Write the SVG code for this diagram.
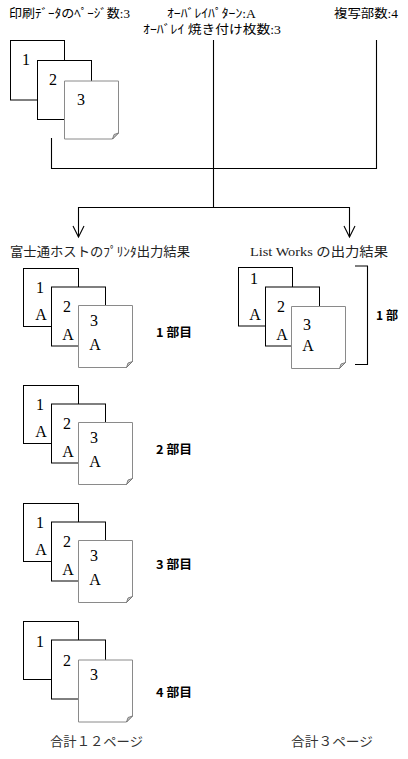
<svg xmlns="http://www.w3.org/2000/svg" width="408" height="759" viewBox="0 0 408 759">
<style>
.bg{fill:#fff}
.pg{fill:#fff;stroke:#000;stroke-width:1}
.pg3{fill:#fff;stroke:#8a8a8a;stroke-width:1}
.ear{fill:#c8c8c8;stroke:#6a6a6a;stroke-width:0.8}
.num{font-family:"Liberation Serif","Noto Sans CJK JP",serif;font-size:16px;fill:#000;text-anchor:middle}
.t{font-family:"Liberation Serif","Noto Sans CJK JP",serif;font-size:12.5px;fill:#000}
.h{font-family:"Liberation Serif","Noto Sans CJK JP",serif;font-size:13px;fill:#222}
.lbl{font-family:"Noto Sans CJK JP","Liberation Sans",sans-serif;font-size:12px;font-weight:bold;fill:#000}
.tot{font-family:"Liberation Serif","Noto Sans CJK JP",serif;font-size:13px;fill:#333}
.ln{fill:none;stroke:#000;stroke-width:1.1}
</style>
<defs>
<g id="page3shape">
<path class="pg3" d="M0,0 H54 V56 L48,62 H0 Z"/>
<path class="ear" d="M54,56 L48,62 L49.5,57.5 Z"/>
</g>
</defs>
<rect class="bg" x="0" y="0" width="408" height="759"/>

<g id="header-texts">
<text class="t" x="9" y="18" textLength="121" lengthAdjust="spacingAndGlyphs">印刷ﾃﾞｰﾀのﾍﾟｰｼﾞ数:3</text>
<text class="t" x="167" y="18" textLength="89" lengthAdjust="spacingAndGlyphs">ｵｰﾊﾞﾚｲﾊﾟﾀｰﾝ:A</text>
<text class="t" x="334" y="18" textLength="64" lengthAdjust="spacingAndGlyphs">複写部数:4</text>
<text class="t" x="143" y="34" textLength="138" lengthAdjust="spacingAndGlyphs">ｵｰﾊﾞﾚｲ 焼き付け枚数:3</text>
</g>

<g id="connectors">
<path class="ln" d="M51.5,138 V168.5 H376.5 V40"/>
<path class="ln" d="M213.5,40 V207.5"/>
<path class="ln" d="M78.5,237 V207.5 H349.5 V237"/>
<path class="ln" d="M73,226 L78.5,237 L84,226"/>
<path class="ln" d="M344,226 L349.5,237 L355,226"/>
</g>

<g id="source-pages">
<g id="src-p1"><rect class="pg" x="10.5" y="40.5" width="54" height="59.5"/><text class="num" x="26" y="65">1</text></g>
<g id="src-p2"><rect class="pg" x="37.5" y="60.5" width="54" height="59"/><text class="num" x="53" y="85">2</text></g>
<g id="src-p3"><path class="pg3" d="M64.5,81 H118.5 V133 L112.5,139 H64.5 Z"/><path class="ear" d="M118.5,133 L112.5,139 L114,134.5 Z"/><text class="num" x="81" y="105">3</text></g>
</g>

<g id="headings">
<text class="h" x="10" y="256" textLength="180" lengthAdjust="spacingAndGlyphs">富士通ホストのﾌﾟﾘﾝﾀ出力結果</text>
<text class="h" x="250" y="256" textLength="138" lengthAdjust="spacingAndGlyphs">List Works の出力結果</text>
</g>

<g id="copy1">
<rect class="pg" x="23.5" y="268.5" width="55" height="58"/>
<text class="num" x="40" y="293">1</text><text class="num" x="41" y="320">A</text>
<rect class="pg" x="51.5" y="287" width="54" height="59"/>
<text class="num" x="67" y="312">2</text><text class="num" x="68" y="340">A</text>
<use href="#page3shape" x="78.5" y="305.5"/>
<text class="num" x="94" y="326">3</text><text class="num" x="95" y="350">A</text>
<text class="lbl" x="156" y="337" textLength="36" lengthAdjust="spacingAndGlyphs">1 部目</text>
</g>

<g id="copy2" transform="translate(0,117)">
<rect class="pg" x="23.5" y="268.5" width="55" height="58"/>
<text class="num" x="40" y="293">1</text><text class="num" x="41" y="320">A</text>
<rect class="pg" x="51.5" y="287" width="54" height="59"/>
<text class="num" x="67" y="312">2</text><text class="num" x="68" y="340">A</text>
<use href="#page3shape" x="78.5" y="305.5"/>
<text class="num" x="94" y="326">3</text><text class="num" x="95" y="350">A</text>
<text class="lbl" x="156" y="337" textLength="36" lengthAdjust="spacingAndGlyphs">2 部目</text>
</g>

<g id="copy3" transform="translate(0,235)">
<rect class="pg" x="23.5" y="268.5" width="55" height="58"/>
<text class="num" x="40" y="293">1</text><text class="num" x="41" y="320">A</text>
<rect class="pg" x="51.5" y="287" width="54" height="59"/>
<text class="num" x="67" y="312">2</text><text class="num" x="68" y="340">A</text>
<use href="#page3shape" x="78.5" y="305.5"/>
<text class="num" x="94" y="326">3</text><text class="num" x="95" y="350">A</text>
<text class="lbl" x="156" y="334" textLength="36" lengthAdjust="spacingAndGlyphs">3 部目</text>
</g>

<g id="copy4" transform="translate(0,353)">
<rect class="pg" x="23.5" y="268.5" width="55" height="58"/>
<text class="num" x="40" y="294">1</text>
<rect class="pg" x="51.5" y="287" width="54" height="59"/>
<text class="num" x="67" y="313">2</text>
<use href="#page3shape" x="78.5" y="307"/>
<text class="num" x="94" y="327">3</text>
<text class="lbl" x="156" y="344" textLength="36" lengthAdjust="spacingAndGlyphs">4 部目</text>
</g>

<g id="listworks-copy">
<rect class="pg" x="238.5" y="267.5" width="54" height="58.5"/>
<text class="num" x="254" y="284">1</text><text class="num" x="255" y="320">A</text>
<rect class="pg" x="265.5" y="287" width="54" height="59"/>
<text class="num" x="281" y="312">2</text><text class="num" x="282" y="340">A</text>
<use href="#page3shape" x="291.5" y="306.5"/>
<text class="num" x="307" y="330">3</text><text class="num" x="308" y="351">A</text>
<path class="ln" d="M355,266 H367.5 V364.5 H355"/>
<text class="lbl" x="376" y="320" textLength="22" lengthAdjust="spacingAndGlyphs">1 部</text>
</g>

<g id="totals">
<text class="tot" x="50" y="746" textLength="93" lengthAdjust="spacingAndGlyphs">合計１２ページ</text>
<text class="tot" x="291" y="746" textLength="82" lengthAdjust="spacingAndGlyphs">合計３ページ</text>
</g>
</svg>
